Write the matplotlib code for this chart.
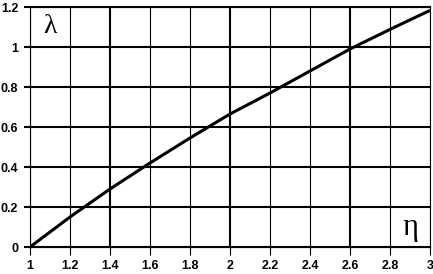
import matplotlib.pyplot as plt

# data
eta = [1.0, 1.2, 1.4, 1.6, 1.8, 2.0, 2.2, 2.4, 2.6, 2.8, 3.0]
lam = [0.0, 0.15, 0.29, 0.42, 0.545, 0.665, 0.77, 0.88, 0.99, 1.088, 1.183]

xticks = [1, 1.2, 1.4, 1.6, 1.8, 2, 2.2, 2.4, 2.6, 2.8, 3]
xlabels = ['1', '1.2', '1.4', '1.6', '1.8', '2', '2.2', '2.4', '2.6', '2.8', '3']
yticks = [0, 0.2, 0.4, 0.6, 0.8, 1, 1.2]
ylabels = ['0', '0.2', '0.4', '0.6', '0.8', '1', '1.2']

plt.rcParams['font.family'] = ['Liberation Sans', 'DejaVu Sans']

fig = plt.figure(figsize=(4.33, 2.74), dpi=100)
ax = fig.add_axes([30 / 433, 27 / 274, 400 / 433, 240 / 274])

ax.plot(eta, lam, color='black', lw=2.2, solid_capstyle='butt', zorder=3)

ax.set_xlim(1, 3)
ax.set_ylim(0, 1.2)
ax.set_xticks(xticks)
ax.set_xticklabels(xlabels, fontweight='bold', fontsize=9)
ax.set_yticks(yticks)
ax.set_yticklabels(ylabels, fontweight='bold', fontsize=9)

# grid
for y in yticks:
    ax.axhline(y, color='black', lw=1.5, zorder=1, clip_on=False)
for x in xticks:
    w = 1.5 if x in (1.4, 2, 2.6) else 0.8
    ax.axvline(x, color='black', lw=w, zorder=1)

ax.tick_params(axis='y', length=4.5, width=1.5, pad=4, color='black')
ax.tick_params(axis='x', length=6, width=0.8, pad=3.5, color='black')
for s in ax.spines.values():
    s.set_linewidth(0.8)

ax.text(1.1, 1.1, '\u03bb', fontsize=20, family=['Liberation Serif', 'DejaVu Serif'],
        ha='center', va='center')
ax.text(2.9, 0.095, '\u03b7', fontsize=22, family=['Liberation Serif', 'DejaVu Serif'],
        ha='center', va='center')

fig.savefig('out.png', dpi=100)
